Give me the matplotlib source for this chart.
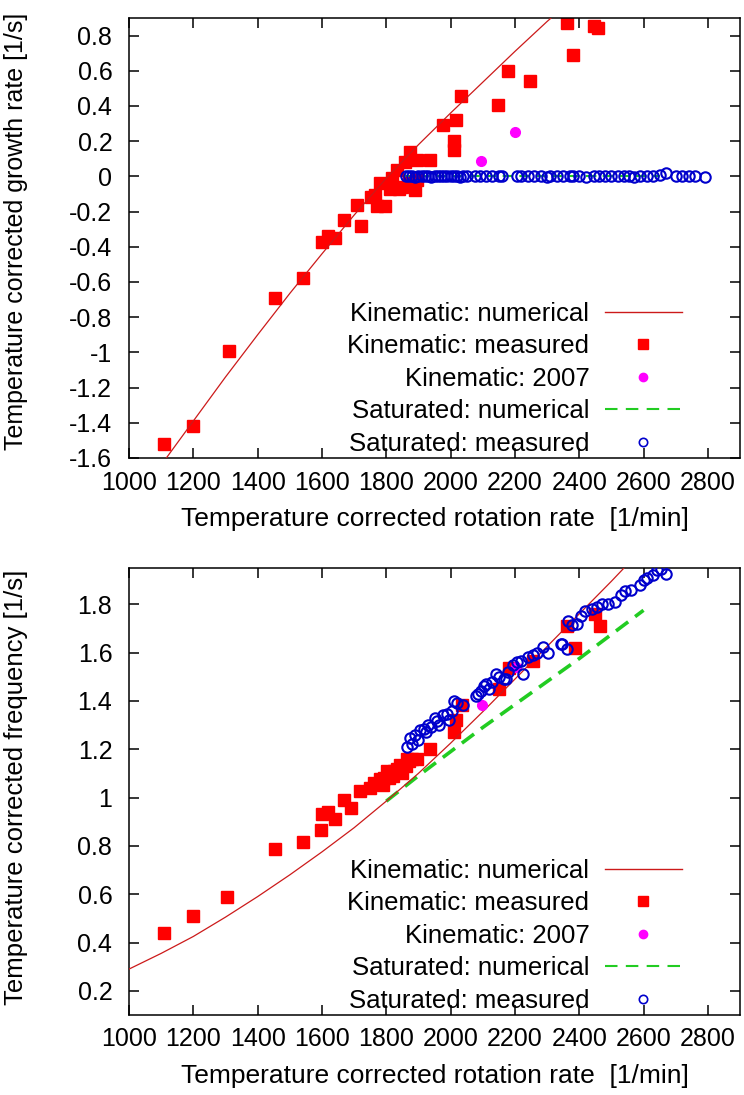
import matplotlib
matplotlib.use("Agg")
import matplotlib.pyplot as plt
from matplotlib.lines import Line2D

plt.rcParams['font.family'] = ['Liberation Sans', 'DejaVu Sans']

# ---------------- data: top panel (growth rate) ----------------
kin_num_x_top = [1100, 1200, 1300, 1400, 1500, 1600, 1700, 1800, 1900, 2000, 2100, 2200, 2300, 2350]
kin_num_y_top = [-1.64, -1.39, -1.14, -0.90, -0.665, -0.44, -0.22, -0.01, 0.18, 0.36, 0.535, 0.71, 0.88, 0.96]

kin_meas_x_top = [1110, 1200, 1310, 1455, 1540, 1600, 1618, 1640, 1670, 1708, 1720, 1751, 1766, 1772,
                  1782, 1797, 1812, 1818, 1834, 1840, 1849, 1858, 1871, 1874, 1889, 1895, 1895, 1935,
                  1975, 2018, 2012, 2012, 2032, 2148, 2178, 2246, 2363, 2381, 2446, 2458]
kin_meas_y_top = [-1.52, -1.42, -0.99, -0.69, -0.58, -0.37, -0.34, -0.35, -0.25, -0.16, -0.28, -0.117, -0.105, -0.17,
                  -0.04, -0.17, -0.07, -0.01, 0.036, -0.07, -0.06, 0.08, -0.04, 0.14, -0.08, 0.093, -0.02, 0.093,
                  0.29, 0.32, 0.20, 0.15, 0.455, 0.405, 0.60, 0.54, 0.87, 0.69, 0.855, 0.845]

kin07_x_top = [2095, 2200]
kin07_y_top = [0.09, 0.25]

sat_num_x_top = [1800, 2000, 2200, 2400, 2600, 2650]
sat_num_y_top = [0.0, 0.0, 0.0, 0.0, 0.0, 0.0]

sat_meas_x_top = [1860, 1870, 1880, 1890, 1900, 1910, 1920, 1930, 1940, 1950, 1960, 1970, 1980, 1990,
                  2000, 2010, 2020, 2030, 2040, 2050, 2075, 2090, 2110, 2130, 2150, 2160, 2205, 2220,
                  2240, 2260, 2280, 2300, 2310, 2330, 2350, 2370, 2380, 2400, 2420, 2445, 2460, 2480,
                  2500, 2520, 2540, 2555, 2570, 2590, 2610, 2630, 2650, 2670, 2700, 2720, 2740, 2760, 2790]
sat_meas_y_top = [0.0, 0.005, 0.0, -0.005, 0.0, 0.005, 0.0, 0.0, -0.005, 0.0, 0.005, 0.0, 0.0, 0.0,
                  0.005, 0.0, 0.0, -0.005, 0.0, 0.0, 0.0, 0.005, 0.0, 0.0, 0.0, 0.005, 0.0, 0.0,
                  0.005, 0.0, 0.0, -0.005, 0.0, 0.0, 0.005, 0.0, 0.0, 0.0, -0.005, 0.0, 0.0, 0.0,
                  0.005, 0.0, 0.0, 0.0, -0.005, 0.0, 0.0, 0.005, 0.01, 0.02, 0.0, 0.0, 0.0, 0.005, -0.005]

# ---------------- data: bottom panel (frequency) ----------------
kin_num_x_bot = [1000, 1100, 1200, 1300, 1400, 1500, 1600, 1700, 1800, 1900, 2000, 2100, 2200, 2300, 2400, 2500, 2550]
kin_num_y_bot = [0.29, 0.355, 0.425, 0.505, 0.59, 0.68, 0.775, 0.875, 0.985, 1.10, 1.225, 1.355, 1.49, 1.625, 1.76, 1.895, 1.965]

kin_meas_x_bot = [1110, 1200, 1305, 1455, 1540, 1597, 1600, 1618, 1640, 1668, 1689, 1717, 1748, 1763,
                  1782, 1790, 1794, 1803, 1810, 1820, 1825, 1834, 1843, 1850, 1860, 1865, 1871, 1880,
                  1895, 1935, 2012, 2018, 2034, 2151, 2181, 2255, 2363, 2388, 2449, 2465]
kin_meas_y_bot = [0.44, 0.51, 0.59, 0.785, 0.815, 0.865, 0.93, 0.94, 0.91, 0.99, 0.955, 1.025, 1.04, 1.06,
                  1.075, 1.05, 1.08, 1.11, 1.08, 1.09, 1.11, 1.12, 1.135, 1.10, 1.13, 1.16, 1.15, 1.16,
                  1.16, 1.20, 1.27, 1.32, 1.385, 1.45, 1.535, 1.565, 1.71, 1.62, 1.76, 1.71]

kin07_x_bot = [2098, 2203]
kin07_y_bot = [1.385, 1.54]

sat_num_x_bot = [1800, 1900, 2000, 2100, 2200, 2300, 2400, 2500, 2600]
sat_num_y_bot = [0.985, 1.09, 1.19, 1.29, 1.385, 1.48, 1.575, 1.675, 1.775]

sat_meas_x_bot = [1865, 1874, 1880, 1890, 1900, 1905, 1917, 1925, 1930, 1940, 1950, 1957, 1965, 1975,
                  1988, 1995, 2005, 2012, 2020, 2040, 2080, 2086, 2095, 2105, 2111, 2120, 2130, 2141,
                  2150, 2166, 2172, 2180, 2195, 2205, 2218, 2224, 2240, 2255, 2270, 2286, 2302, 2342,
                  2348, 2363, 2366, 2378, 2393, 2405, 2418, 2440, 2455, 2471, 2490, 2511, 2530, 2542,
                  2560, 2588, 2600, 2612, 2630, 2643, 2655, 2671]
sat_meas_y_bot = [1.21, 1.245, 1.22, 1.26, 1.24, 1.28, 1.285, 1.27, 1.30, 1.29, 1.33, 1.315, 1.30, 1.34,
                  1.345, 1.32, 1.36, 1.40, 1.39, 1.385, 1.42, 1.43, 1.44, 1.46, 1.47, 1.45, 1.48, 1.51,
                  1.50, 1.49, 1.49, 1.52, 1.55, 1.56, 1.565, 1.51, 1.58, 1.59, 1.60, 1.625, 1.60, 1.635,
                  1.635, 1.615, 1.73, 1.715, 1.72, 1.75, 1.77, 1.78, 1.79, 1.80, 1.80, 1.81, 1.84, 1.855,
                  1.86, 1.88, 1.90, 1.91, 1.92, 1.94, 1.945, 1.925]

x_ticks = [1000, 1200, 1400, 1600, 1800, 2000, 2200, 2400, 2600, 2800]
y_ticks_top = [-1.6, -1.4, -1.2, -1.0, -0.8, -0.6, -0.4, -0.2, 0.0, 0.2, 0.4, 0.6, 0.8]
y_ticklabels_top = ['-1.6', '-1.4', '-1.2', '-1', '-0.8', '-0.6', '-0.4', '-0.2', '0', '0.2', '0.4', '0.6', '0.8']
y_ticks_bot = [0.2, 0.4, 0.6, 0.8, 1.0, 1.2, 1.4, 1.6, 1.8]
y_ticklabels_bot = ['0.2', '0.4', '0.6', '0.8', '1', '1.2', '1.4', '1.6', '1.8']

labels = ['Kinematic: numerical', 'Kinematic: measured', 'Kinematic: 2007',
          'Saturated: numerical', 'Saturated: measured']

RED = '#ff0000'
LINE_RED = '#cc1a1a'
MAG = '#ff00ff'
GREEN = '#22cc22'
BLUE = '#0000cc'

W, H = 744, 1095
fig = plt.figure(figsize=(W / 100, H / 100), dpi=100)

def px_axes(left, top, right, bottom):
    return fig.add_axes([left / W, 1 - bottom / H, (right - left) / W, (bottom - top) / H])

ax1 = px_axes(129, 18, 740, 458)
ax2 = px_axes(129, 568, 740, 1015)

def style(ax):
    ax.tick_params(direction='in', length=7, width=1.1, top=True, right=True, labelsize=18)
    ax.tick_params(axis='y', pad=12)
    ax.tick_params(axis='x', pad=9)
    for s in ax.spines.values():
        s.set_linewidth(1.1)
    ax.set_xticks(x_ticks)
    ax.set_xlim(1000, 2900)
    ax.set_xlabel('Temperature corrected rotation rate  [1/min]', fontsize=19, labelpad=9)

def draw(ax, knx, kny, kmx, kmy, k7x, k7y, snx, sny, smx, smy, dash_lw, dash):
    ax.plot(knx, kny, color=LINE_RED, lw=0.9, zorder=3)
    ax.plot(kmx, kmy, 's', color=RED, ms=8, mec=RED, zorder=2, linestyle='none')
    ax.plot(k7x, k7y, 'o', color=MAG, ms=7, zorder=4, linestyle='none')
    ax.plot(snx, sny, color=GREEN, lw=dash_lw, dashes=dash, zorder=1)
    ax.plot(smx, smy, 'o', mfc='none', mec=BLUE, mew=1.5, ms=7.5, zorder=5, linestyle='none')

draw(ax1, kin_num_x_top, kin_num_y_top, kin_meas_x_top, kin_meas_y_top, kin07_x_top, kin07_y_top,
     sat_num_x_top, sat_num_y_top, sat_meas_x_top, sat_meas_y_top, 1.5, (5, 3))
draw(ax2, kin_num_x_bot, kin_num_y_bot, kin_meas_x_bot, kin_meas_y_bot, kin07_x_bot, kin07_y_bot,
     sat_num_x_bot, sat_num_y_bot, sat_meas_x_bot, sat_meas_y_bot, 2.6, (4.2, 2.4))

for ax in (ax1, ax2):
    style(ax)

ax1.set_ylim(-1.6, 0.9)
ax1.set_yticks(y_ticks_top)
ax1.set_yticklabels(y_ticklabels_top)
ax1.set_ylabel('Temperature corrected growth rate [1/s]', fontsize=18)
ax1.yaxis.set_label_coords(-0.165, 0.515)

ax2.set_ylim(0.1, 1.95)
ax2.set_yticks(y_ticks_bot)
ax2.set_yticklabels(y_ticklabels_bot)
ax2.set_ylabel('Temperature corrected frequency [1/s]', fontsize=18.5)
ax2.yaxis.set_label_coords(-0.165, 0.51)

def handles():
    return [Line2D([], [], color=LINE_RED, lw=1.0),
            Line2D([], [], marker='s', color=RED, ms=7, linestyle='none'),
            Line2D([], [], marker='o', color=MAG, ms=6, linestyle='none'),
            Line2D([], [], color=GREEN, lw=1.5, dashes=(6, 4)),
            Line2D([], [], marker='o', mfc='none', mec=BLUE, mew=1.2, ms=6, linestyle='none')]

for ax in (ax1, ax2):
    ax.legend(handles(), labels, loc='lower right', bbox_to_anchor=(0.905, 0.005),
              frameon=False, markerfirst=False, fontsize=18.5, handlelength=3.0,
              handletextpad=0.6, labelspacing=0.33, borderpad=0, borderaxespad=0)

fig.savefig('out.png', dpi=100)
